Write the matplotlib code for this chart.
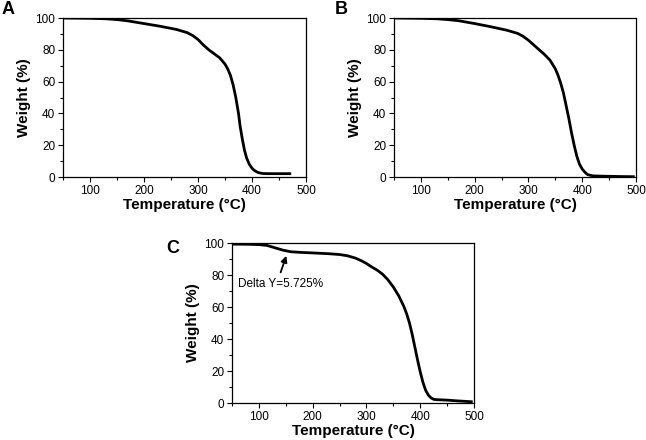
import matplotlib
matplotlib.use("Agg")
import matplotlib.pyplot as plt
from matplotlib.ticker import MultipleLocator

plt.rcParams["font.family"] = ["Liberation Sans", "DejaVu Sans"]

# ── TGA curves (temperature °C, weight %) ──
temp_a = [50, 100, 130, 150, 170, 200, 230, 260, 280, 290, 300, 310, 320, 330, 340, 350,
          355, 360, 365, 370, 375, 378, 382, 386, 390, 395, 400, 405, 410, 415, 420, 430, 450, 470]
weight_a = [100, 99.8, 99.5, 99, 98.2, 96.5, 94.8, 92.8, 90.8, 89, 86.5, 83, 80, 77.5, 75, 71,
            68, 64, 58, 50, 40, 32, 24, 17, 12, 8, 5.5, 4, 3, 2.5, 2.2, 2.1, 2.1, 2.1]

temp_b = [50, 100, 130, 150, 170, 200, 230, 260, 280, 290, 300, 310, 320, 330, 340, 350,
          355, 360, 365, 370, 375, 380, 385, 390, 395, 400, 405, 410, 420, 440, 470, 495]
weight_b = [100, 99.8, 99.5, 99, 98.3, 96.5, 94.5, 92.3, 90.3, 88.5, 86, 83, 80, 77, 73.5, 68,
            64, 59, 53, 45, 37, 28, 20, 13, 8, 5, 3, 1.5, 0.7, 0.5, 0.3, 0.2]

temp_c = [50, 80, 100, 115, 130, 145, 160, 180, 200, 230, 250, 265, 280, 290, 300, 310, 320,
          330, 340, 350, 360, 370, 375, 380, 385, 390, 395, 400, 405, 410, 415, 420, 425,
          430, 450, 470, 490, 495]
weight_c = [99.3, 99.2, 99, 98.5, 97, 95.5, 94.5, 94.1, 93.8, 93.3, 92.8, 92, 90.5, 89, 87.2,
            85, 83, 80.5, 77, 72.5, 67, 60, 55.5, 50, 43, 35, 27, 19.5, 13, 8, 5, 3.2, 2.3,
            2.1, 1.8, 1.3, 0.9, 0.8]

panel_labels = ["A", "B", "C"]
annot_text = "Delta Y=5.725%"


def style_axes(ax):
    ax.set_xlim(50, 500)
    ax.set_ylim(0, 100)
    ax.xaxis.set_major_locator(MultipleLocator(100))
    ax.xaxis.set_minor_locator(MultipleLocator(50))
    ax.yaxis.set_major_locator(MultipleLocator(20))
    ax.yaxis.set_minor_locator(MultipleLocator(10))
    ax.tick_params(which="both", direction="out", top=False, right=False,
                   labelsize=8.5, width=0.8, pad=2)
    ax.tick_params(which="major", length=3.5)
    ax.tick_params(which="minor", length=2)
    for sp in ax.spines.values():
        sp.set_linewidth(0.9)
    ax.set_xlabel("Temperature (°C)", fontsize=11, fontweight="bold", labelpad=1)
    ax.set_ylabel("Weight (%)", fontsize=11, fontweight="bold", labelpad=3)


fig = plt.figure(figsize=(6.46, 4.40), dpi=100)
W, H = 646, 440
axes_px = [(63, 18, 306, 177), (394, 18, 636, 177), (232, 243, 474, 403)]
axs = []
for (l, t, r, b) in axes_px:
    axs.append(fig.add_axes([l / W, 1 - b / H, (r - l) / W, (b - t) / H]))

for ax, tt, ww in zip(axs, [temp_a, temp_b, temp_c], [weight_a, weight_b, weight_c]):
    ax.plot(tt, ww, color="black", lw=2.0, solid_joinstyle="round")
    style_axes(ax)

label_pos = [(2, 14), (335, 14), (166, 253)]
for lab, (x, y) in zip(panel_labels, label_pos):
    fig.text(x / W, 1 - y / H, lab, fontsize=13, fontweight="bold", va="baseline")

axs[2].annotate(annot_text, xy=(151, 92), xytext=(61, 74.5), fontsize=8.5,
                va="center", ha="left",
                arrowprops=dict(arrowstyle="-|>", color="black", lw=1.3,
                                mutation_scale=9, shrinkA=2, shrinkB=0,
                                relpos=(0.48, 1.0)))

fig.savefig("out.png", dpi=100)
